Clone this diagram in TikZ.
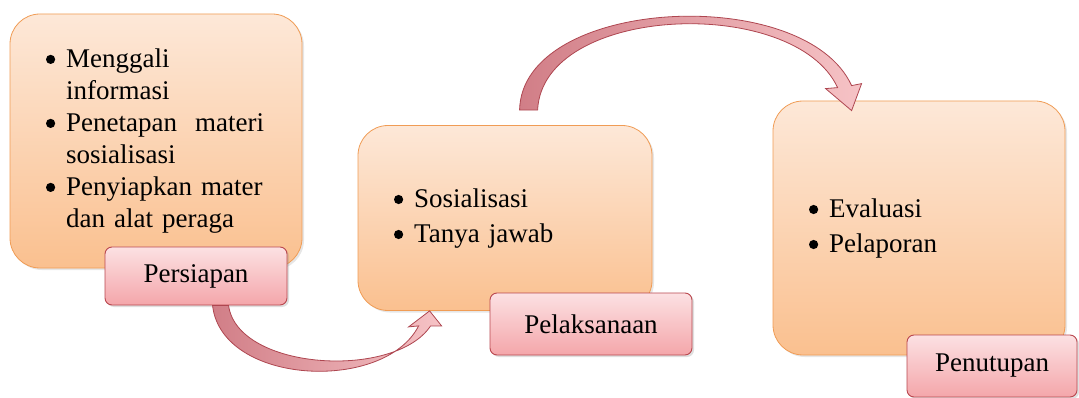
\documentclass[tikz,border=0pt]{standalone}
\usepackage{fontspec}
\setmainfont{Liberation Serif}
\usetikzlibrary{calc, shadows}

\definecolor{boxtop}{HTML}{FDE8D8}
\definecolor{boxbot}{HTML}{FAC08F}
\definecolor{boxline}{HTML}{F09C55}
\definecolor{tagtop}{HTML}{FCE1E3}
\definecolor{tagbot}{HTML}{F4A6AA}
\definecolor{tagline}{HTML}{B9474E}
\definecolor{arrdark}{HTML}{D17E87}
\definecolor{arrlight}{HTML}{F6C3C6}
\definecolor{arrline}{HTML}{AE4650}

\newcommand{\dotmark}{\tikz[baseline=-8pt]\fill (0,0) circle (4.6pt);}

\begin{document}
\begin{tikzpicture}[x=1pt, y=-1pt,
    stage/.style={draw=boxline, line width=0.8pt, rounded corners=30pt, top color=boxtop, bottom color=boxbot,
        minimum height=254pt, text width=220pt, inner xsep=36pt, inner ysep=0pt, align=left,
        font=\fontsize{27}{32}\selectfont,
        drop shadow={opacity=0.2, shadow xshift=2pt, shadow yshift=-2pt}},
    tag/.style={draw=tagline, line width=0.9pt, rounded corners=7pt, top color=tagtop, bottom color=tagbot,
        minimum height=60pt, inner sep=0pt, font=\fontsize{27}{32}\selectfont,
        drop shadow={opacity=0.25, shadow xshift=2pt, shadow yshift=-2pt}},
    band/.style={draw=arrline, line width=0.8pt, left color=arrdark, right color=arrlight}]
    \useasboundingbox (0,0) rectangle (1079,398);

    % Stage boxes
    \node[stage] (persiapanbox) at (156,141) {\begin{tabular}{@{}l@{\hspace{11pt}}l@{}}
        \dotmark & Menggali\\
                 & informasi\\
        \dotmark & Penetapan\ \ materi\\
                 & sosialisasi\\
        \dotmark & Penyiapkan mater\\
                 & dan alat peraga
        \end{tabular}};
    \node[tag, minimum width=182pt, minimum height=58pt] (persiapan) at (196,276) {Persiapan};

    \node[stage, minimum height=185pt, text width=222pt, font=\fontsize{27}{35}\selectfont] (pelaksanaanbox) at (505,218) {\begin{tabular}{@{}l@{\hspace{11pt}}l@{}}
        \dotmark & Sosialisasi\\
        \dotmark & Tanya jawab
        \end{tabular}};
    \node[tag, minimum width=202pt, minimum height=62pt] (pelaksanaan) at (591,324) {Pelaksanaan};

    \node[stage, font=\fontsize{27}{35}\selectfont] (penutupanbox) at (919,228) {\begin{tabular}{@{}l@{\hspace{11pt}}l@{}}
        \dotmark & Evaluasi\\
        \dotmark & Pelaporan
        \end{tabular}};
    \node[tag, minimum width=170pt, minimum height=62pt] (penutupan) at (992,366) {Penutupan};

    % Lower arrow: Persiapan -> Pelaksanaan
    \coordinate (a1) at ($(persiapan.south west)+(108,0)$);
    \coordinate (a2) at ($(persiapan.south west)+(124,0)$);
    \coordinate (h1) at ($(pelaksanaanbox.south west)+(72,0)$);
    \path[band] (a1) .. controls +(9,80) and +(-34,67) .. ($(h1)+(-11,15)$)
        -- ($(h1)+(-21,16)$) -- (h1) -- ($(h1)+(12,15)$) -- ($(h1)+(1,15)$)
        .. controls +(-36,54) and +(9,65) .. (a2) -- cycle;

    % Upper arrow: Pelaksanaan -> Penutupan
    \coordinate (b1) at ($(pelaksanaanbox.north west)+(162,-15)$);
    \coordinate (b2) at ($(pelaksanaanbox.north west)+(180,-15)$);
    \coordinate (h2) at ($(penutupanbox.north west)+(79,10)$);
    \path[band] (b1) .. controls +(2,-113) and +(-47,-103) .. ($(h2)+(0,-25)$)
        -- ($(h2)+(10,-27)$) -- (h2) -- ($(h2)+(-26,-22)$) -- ($(h2)+(-14,-23)$)
        .. controls +(-43,-93) and +(5,-106) .. (b2) -- cycle;
\end{tikzpicture}
\end{document}
